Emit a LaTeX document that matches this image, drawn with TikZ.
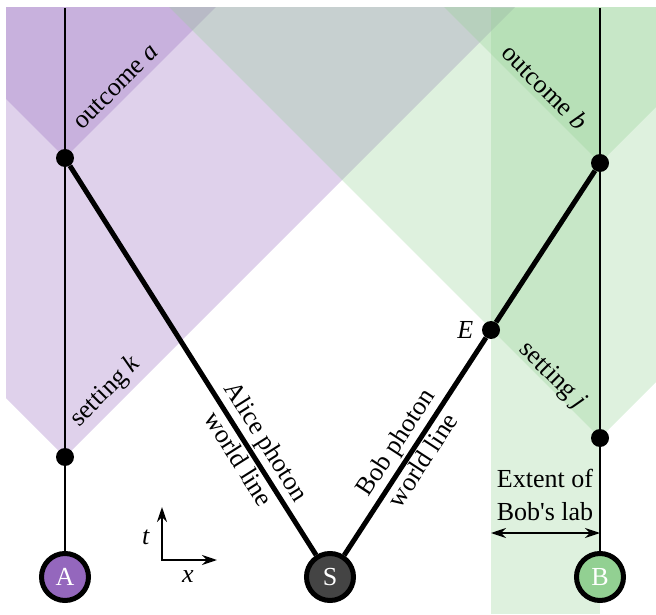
\documentclass[tikz,border=0pt]{standalone}
\usepackage{fontspec}
\setmainfont{Liberation Serif}
\usetikzlibrary{arrows.meta, positioning, backgrounds}

\definecolor{alicepurple}{RGB}{148,103,189}
\definecolor{bobfill}{RGB}{146,208,146}
\definecolor{sourcegray}{RGB}{68,68,68}

\begin{document}
\begin{tikzpicture}[x=1pt, y=1pt,
        font=\fontsize{26}{33}\selectfont,
        >={Stealth[length=15pt, width=10pt, inset=5pt]},
        party/.style={circle, draw, line width=5pt, minimum size=47pt,
                      inner sep=0pt, text=white},
        event/.style={circle, fill=black, minimum size=18pt, inner sep=0pt},
        worldline/.style={line width=2pt},
        photon/.style={line width=5pt},
        alicecone/.style={fill=alicepurple, fill opacity=0.3},
        bobcone/.style={fill=bobfill, fill opacity=0.3},
        arr/.style={<->, line width=2pt}
    ]
        \useasboundingbox (0,0) rectangle (656,614);

        % parties and source
        \node[party, fill=alicepurple] (A) at (65,37) {A};
        \node[party, fill=sourcegray] (S) at (330,37) {S};
        \node[party, fill=bobfill] (B) at (600,37) {B};

        % events
        \node[event] (a) at (65,456) {};
        \node[event] (k) at (65,157) {};
        \node[event] (b) at (600,451) {};
        \node[event] (j) at (600,176) {};
        \node[event] (E) at (491,284) {};
        \coordinate (atop) at (65,606);
        \coordinate (btop) at (600,606);

        % future light cones and Bob's lab
        \begin{scope}[on background layer]
            \clip (6,0) rectangle (656,606);
            \fill[alicecone] (k.center) -- ++(800,800) -- ++(-1600,0) -- cycle;
            \fill[alicecone] (a.center) -- ++(800,800) -- ++(-1600,0) -- cycle;
            \fill[bobcone] (j.center) -- ++(800,800) -- ++(-1600,0) -- cycle;
            \fill[bobcone] (b.center) -- ++(800,800) -- ++(-1600,0) -- cycle;
            \fill[bobcone] (491,0) rectangle (600,606);
        \end{scope}

        % world lines
        \draw[worldline] (atop) -- (A);
        \draw[worldline] (btop) -- (B);
        \draw[photon] (S) -- (a);
        \draw[photon] (S) -- (E) -- (b);

        \node[rotate=-57.7, align=center] (alicelab) at (253,164) {Alice photon\\world line};
        \node[rotate=56.9, align=center] (boblab) at (408.5,163) {Bob photon\\world line};

        % event labels
        \node[rotate=45] (outa) at (116,527) {outcome \textit{a}};
        \node[rotate=45] (setk) at (106,222) {setting \textit{k}};
        \node[rotate=-45] (outb) at (545,527) {outcome \textit{b}};
        \node[rotate=-45] (setj) at (552,238) {setting \textit{j}};
        \node[left=5pt of E] (Elab) {\textit{E}};

        % extent of Bob's lab
        \node[align=center] (lablab) at (545,119)
            {Extent of\\Bob{\addfontfeature{Ligatures=TeXOff}'}s lab};
        \coordinate (labL) at (491,81);
        \coordinate (labR) at (600,81);
        \draw[arr, line width=1.5pt] (labL) -- (labR);

        % axes
        \coordinate (o) at (162,54);
        \coordinate (tend) at (162,107);
        \coordinate (xend) at (217,54);
        \draw[arr] (tend) -- (o) -- (xend);
        \node (tlab) at (146,77) {\textit{t}};
        \node (xlab) at (188,37) {\textit{x}};
    \end{tikzpicture}
\end{document}
